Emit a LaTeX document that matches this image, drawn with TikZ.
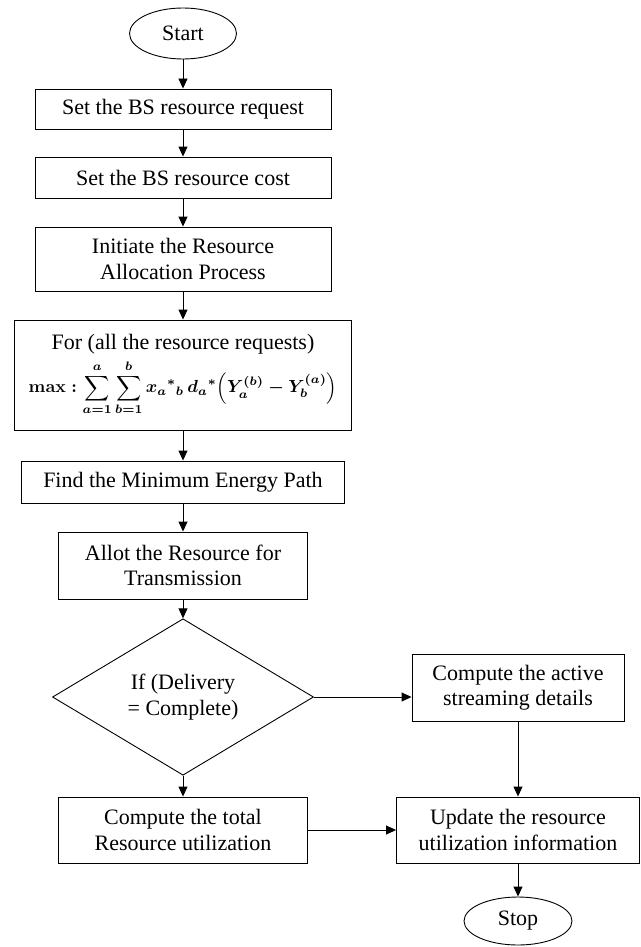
\documentclass[tikz,border=0pt]{standalone}
\usepackage{amsmath}
\usepackage{graphicx}
\usepackage{fontspec}
\setmainfont{Liberation Serif}
\usetikzlibrary{shapes.geometric,arrows.meta}
\begin{document}
\begin{tikzpicture}[x=1pt,y=-1pt,line width=0.9pt,
    txt/.style={font=\fontsize{22}{25.5}\selectfont},
    box/.style={txt,draw,rectangle,inner sep=0pt,align=center},
    term/.style={txt,draw,ellipse,inner sep=0pt},
    decide/.style={txt,draw,diamond,inner sep=0pt,align=center},
    flow/.style={-{Triangle[length=10pt,width=9pt]}}]
    \useasboundingbox (0,0) rectangle (640,947);

    % left column
    \node[term,minimum width=107pt,minimum height=51pt] (start) at (183,33.5) {Start};
    \node[box,minimum width=296pt,minimum height=40pt] (req) at (183,109) {Set the BS resource request};
    \node[box,minimum width=296pt,minimum height=41pt] (cost) at (183,177.5) {Set the BS resource cost};
    \node[box,minimum width=296pt,minimum height=64pt] (init) at (183,259) {Initiate the Resource\\Allocation Process};
    \node[box,minimum width=337pt,minimum height=110pt] (loop) at (183,375)
        {For (all the resource requests)\\[5pt]
         \scalebox{1.75}{\normalsize\boldmath
          $\displaystyle\mathbf{max}:\sum_{a=1}^{a}\sum_{b=1}^{b}x_a{}^{*}{}_{b}\,d_a{}^{*}\Bigl(Y_a^{(b)}-Y_b^{(a)}\Bigr)$}};
    \node[box,minimum width=323pt,minimum height=42pt] (path) at (183,482) {Find the Minimum Energy Path};
    \node[box,minimum width=249pt,minimum height=67pt] (allot) at (183,565.5) {Allot the Resource for\\Transmission};
    \node[decide,minimum width=261pt,minimum height=134pt] (check) at (183,697) {If (Delivery\\= Complete)};
    \node[box,minimum width=249pt,minimum height=66pt] (total) at (183,830) {Compute the total\\Resource utilization};

    % right column
    \node[box,minimum width=212pt,minimum height=67pt] (active) at (518,687.5) {Compute the active\\streaming details};
    \node[box,minimum width=243pt,minimum height=66pt] (update) at (518,830) {Update the resource\\utilization information};
    \node[term,minimum width=108pt,minimum height=48pt] (stop) at (518,921) {Stop};

    \draw[flow] (start) -- (req);
    \draw[flow] (req) -- (cost);
    \draw[flow] (cost) -- (init);
    \draw[flow] (init) -- (loop);
    \draw[flow] (loop) -- (path);
    \draw[flow] (path) -- (allot);
    \draw[flow] (allot) -- (check);
    \draw[flow] (check) -- (total);
    \draw[flow] (check.east) -- (check.east -| active.west);
    \draw[flow] (active) -- (update);
    \draw[flow] (total) -- (update);
    \draw[flow] (update) -- (stop);
\end{tikzpicture}
\end{document}
